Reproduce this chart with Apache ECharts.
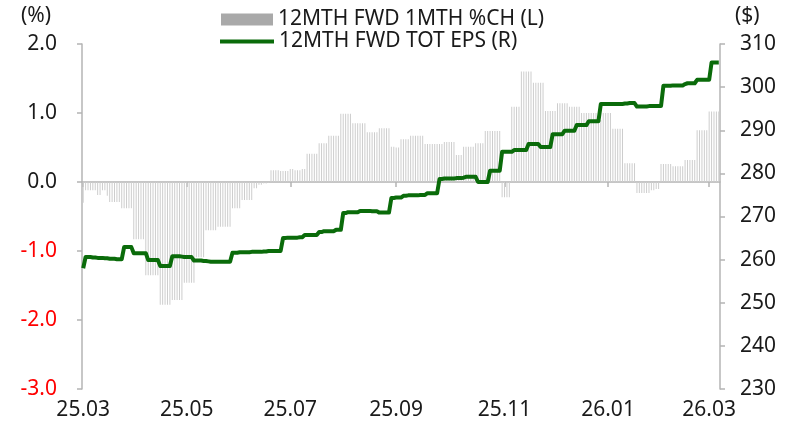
<!DOCTYPE html>
<html>
<head>
<meta charset="utf-8">
<script src="https://cdn.jsdelivr.net/npm/echarts@6/dist/echarts.min.js"></script>
<style>
html,body{margin:0;padding:0;background:#fff;}
#c{width:796px;height:428px;}
</style>
</head>
<body>
<div id="c"></div>
<script>
// ---- data (business days from 2025-03-03, 5 per week, 53 weeks) ----
const startDate = '2025-03-03';
const dayCount = 265;
const xTickLabels = ['25.03', '25.05', '25.07', '25.09', '25.11', '26.01', '26.03'];
const leftTicks = ['-3.0', '-2.0', '-1.0', '0.0', '1.0', '2.0'];
const rightTicks = ['230', '240', '250', '260', '270', '280', '290', '300', '310'];
const barName = '12MTH FWD 1MTH %CH (L)';
const lineName = '12MTH FWD TOT EPS (R)';

const pctChange1M = [
  -0.30,-0.12,-0.12,-0.12,-0.12,
  -0.12,-0.19,-0.19,-0.12,-0.12,
  -0.20,-0.29,-0.29,-0.29,-0.29,
  -0.29,-0.38,-0.38,-0.38,-0.38,
  -0.38,-0.83,-0.83,-0.83,-0.83,
  -0.83,-1.35,-1.35,-1.35,-1.35,
  -1.35,-1.35,-1.78,-1.78,-1.78,
  -1.78,-1.78,-1.71,-1.71,-1.71,
  -1.71,-1.71,-1.46,-1.46,-1.46,
  -1.46,-1.46,-1.09,-1.09,-1.09,
  -1.09,-0.70,-0.70,-0.70,-0.70,
  -0.70,-0.65,-0.65,-0.65,-0.65,
  -0.65,-0.65,-0.38,-0.38,-0.38,
  -0.38,-0.26,-0.26,-0.26,-0.26,
  -0.26,-0.09,-0.09,-0.04,-0.04,
  -0.02,-0.02,-0.01,0.17,0.17,
  0.17,0.17,0.16,0.16,0.16,
  0.16,0.19,0.19,0.17,0.17,
  0.17,0.19,0.19,0.41,0.41,
  0.41,0.41,0.41,0.56,0.56,
  0.56,0.56,0.67,0.67,0.67,
  0.67,0.67,0.99,0.99,0.99,
  0.99,0.99,0.85,0.85,0.85,
  0.85,0.85,0.85,0.72,0.72,
  0.72,0.72,0.72,0.78,0.78,
  0.78,0.78,0.78,0.51,0.51,
  0.50,0.50,0.62,0.62,0.62,
  0.62,0.67,0.67,0.67,0.67,
  0.67,0.67,0.55,0.55,0.55,
  0.55,0.55,0.55,0.55,0.55,
  0.58,0.58,0.58,0.58,0.58,
  0.39,0.39,0.39,0.51,0.51,
  0.51,0.51,0.51,0.56,0.56,
  0.56,0.56,0.74,0.74,0.74,
  0.74,0.74,0.74,0.74,-0.22,
  -0.22,-0.22,-0.22,1.09,1.09,
  1.09,1.09,1.60,1.60,1.60,
  1.60,1.60,1.44,1.44,1.44,
  1.44,1.44,1.03,1.03,1.03,
  1.03,1.03,1.14,1.14,1.14,
  1.14,1.14,1.09,1.09,1.09,
  1.09,1.09,1.00,1.00,1.00,
  1.00,1.00,1.00,1.00,1.00,
  0.90,1.00,1.00,1.00,1.00,
  0.77,0.77,0.77,0.77,0.77,
  0.27,0.27,0.27,0.27,0.27,
  -0.16,-0.16,-0.16,-0.16,-0.16,
  -0.16,-0.12,-0.12,-0.10,-0.10,
  0.26,0.26,0.26,0.26,0.26,
  0.23,0.23,0.23,0.23,0.23,
  0.32,0.32,0.32,0.32,0.32,
  0.75,0.75,0.75,0.75,0.75,
  1.02,1.02,1.02,1.02,1.02
];

const totEps = [
  258.0,260.6,260.6,260.6,260.5,
  260.5,260.4,260.4,260.4,260.3,
  260.3,260.2,260.2,260.2,260.1,
  260.1,260.1,262.9,262.9,262.9,
  262.9,261.5,261.5,261.5,261.5,
  261.5,261.5,259.9,259.9,259.9,
  259.9,259.9,258.5,258.5,258.5,
  258.5,258.5,260.8,260.8,260.8,
  260.8,260.7,260.6,260.6,260.6,
  260.6,259.8,259.8,259.8,259.8,
  259.7,259.7,259.6,259.5,259.5,
  259.5,259.5,259.5,259.5,259.5,
  259.5,259.5,261.6,261.6,261.6,
  261.7,261.7,261.7,261.7,261.7,
  261.8,261.8,261.8,261.8,261.8,
  261.9,261.9,262.0,262.0,262.0,
  262.0,262.0,262.0,265.0,265.0,
  265.1,265.1,265.1,265.1,265.1,
  265.2,265.2,265.7,265.7,265.7,
  265.7,265.7,265.7,266.4,266.4,
  266.6,266.6,266.6,266.6,266.6,
  266.9,266.9,266.9,270.8,270.8,
  271.0,271.0,271.0,271.0,271.0,
  271.3,271.3,271.3,271.3,271.3,
  271.2,271.2,271.2,270.9,270.9,
  270.9,270.9,270.9,274.3,274.3,
  274.4,274.4,274.4,274.8,274.8,
  274.9,274.9,274.9,274.9,274.9,
  275.0,275.0,275.0,275.4,275.4,
  275.4,275.4,275.4,278.7,278.7,
  278.8,278.8,278.8,278.8,278.8,
  278.9,278.9,278.9,279.0,279.2,
  279.2,279.2,279.2,279.2,278.0,
  278.0,278.0,278.0,278.0,280.6,
  280.6,280.6,280.6,280.6,285.0,
  285.0,285.0,285.0,285.0,285.4,
  285.4,285.4,285.4,285.4,285.4,
  286.8,286.8,286.8,286.8,286.8,
  286.1,286.1,286.1,286.1,286.1,
  289.1,289.1,289.1,289.1,289.1,
  289.9,289.9,289.9,289.9,289.9,
  291.2,291.2,291.2,291.2,291.2,
  292.1,292.1,292.1,292.1,292.1,
  296.1,296.1,296.1,296.1,296.1,
  296.1,296.1,296.1,296.1,296.1,
  296.2,296.2,296.3,296.3,296.3,
  295.5,295.5,295.5,295.5,295.5,
  295.6,295.6,295.6,295.6,295.6,
  295.6,300.3,300.3,300.3,300.3,
  300.4,300.4,300.4,300.4,300.4,
  300.7,300.9,300.9,300.9,300.9,
  301.7,301.7,301.7,301.7,301.7,
  301.7,305.7,305.7,305.7,305.7
];

// ---- categories: business days ----
const dates = [];
(function () {
  const d = new Date(startDate + 'T00:00:00Z');
  while (dates.length < dayCount) {
    const wd = d.getUTCDay();
    if (wd !== 0 && wd !== 6) dates.push(d.toISOString().slice(0, 10));
    d.setUTCDate(d.getUTCDate() + 1);
  }
})();

function labelFor(idx) {
  const cur = dates[idx];
  const prev = idx > 0 ? dates[idx - 1] : null;
  if (prev && prev.slice(0, 7) === cur.slice(0, 7)) return null;
  const lab = cur.slice(2, 4) + '.' + cur.slice(5, 7);
  return xTickLabels.indexOf(lab) >= 0 ? lab : null;
}
const showTick = (idx) => labelFor(idx) !== null;

const FONT = 'Noto Sans';
const FS = 21;
const TXT = '#1a1a1a';
const AX = '#b4b4b4';

const chart = echarts.init(document.getElementById('c'), null, { renderer: 'canvas' });
chart.setOption({
  animation: false,
  backgroundColor: '#ffffff',
  textStyle: { fontFamily: FONT },
  grid: { left: 82, right: 76, top: 44, bottom: 39, containLabel: false },
  legend: [
    {
      data: [{ name: barName, icon: 'rect', itemStyle: { color: '#a9a9a9' } }],
      left: 221, top: 9, padding: 0, itemWidth: 52, itemHeight: 12, itemGap: 0,
      selectedMode: false,
      textStyle: { fontFamily: FONT, fontSize: FS, color: TXT }
    },
    {
      data: [{ name: lineName, icon: 'rect' }],
      left: 220, top: 31, padding: 0, itemWidth: 54, itemHeight: 4, itemGap: 0,
      selectedMode: false,
      textStyle: { fontFamily: FONT, fontSize: FS, color: TXT }
    }
  ],
  graphic: [
    { type: 'text', left: 21, top: 6, style: { text: '(%)', font: FS + 'px "' + FONT + '"', fill: TXT } },
    { type: 'text', left: 735, top: 6, style: { text: '($)', font: FS + 'px "' + FONT + '"', fill: TXT } }
  ],
  xAxis: [
    {
      type: 'category', data: dates, position: 'bottom',
      axisLine: { show: false, onZero: false },
      axisTick: { show: false },
      splitLine: { show: false },
      axisLabel: {
        interval: (i) => showTick(i),
        formatter: (v, i) => labelFor(i) || '',
        margin: 11, fontFamily: FONT, fontSize: FS, color: TXT
      }
    },
    {
      type: 'category', data: dates, position: 'bottom',
      axisLine: { show: true, onZero: true, onZeroAxisIndex: 0, lineStyle: { color: AX, width: 1.5 } },
      axisTick: { show: true, alignWithLabel: true, interval: (i) => showTick(i), length: 5, lineStyle: { color: AX, width: 1.5 } },
      axisLabel: { show: false },
      splitLine: { show: false }
    }
  ],
  yAxis: [
    {
      type: 'value', min: -3, max: 2, interval: 1, position: 'left',
      axisLine: { show: true, lineStyle: { color: AX, width: 1.5 } },
      axisTick: { show: true, length: 5, lineStyle: { color: AX, width: 1.5 } },
      splitLine: { show: false },
      axisLabel: {
        margin: 25, fontFamily: FONT, fontSize: FS,
        formatter: (v) => leftTicks[Math.round(v) + 3],
        color: (v) => (Number(v) < 0 || String(v).charAt(0) === '-') ? '#ff0000' : TXT
      }
    },
    {
      type: 'value', min: 230, max: 310, interval: 10, position: 'right',
      axisLine: { show: true, lineStyle: { color: AX, width: 1.5 } },
      axisTick: { show: true, length: 5, lineStyle: { color: AX, width: 1.5 } },
      splitLine: { show: false },
      axisLabel: {
        margin: 20, fontFamily: FONT, fontSize: FS, color: TXT,
        formatter: (v) => rightTicks[Math.round((v - 230) / 10)]
      }
    }
  ],
  series: [
    {
      name: barName, type: 'bar', xAxisIndex: 0, yAxisIndex: 0,
      data: pctChange1M, barWidth: 1,
      itemStyle: { color: '#cdcdcd' },
      emphasis: { disabled: true }
    },
    {
      name: lineName, type: 'line', xAxisIndex: 0, yAxisIndex: 1,
      data: totEps, symbol: 'none', showSymbol: false,
      lineStyle: { color: '#0a6b0a', width: 4, join: 'round' },
      itemStyle: { color: '#0a6b0a' },
      emphasis: { disabled: true }
    }
  ]
});
</script>
</body>
</html>
